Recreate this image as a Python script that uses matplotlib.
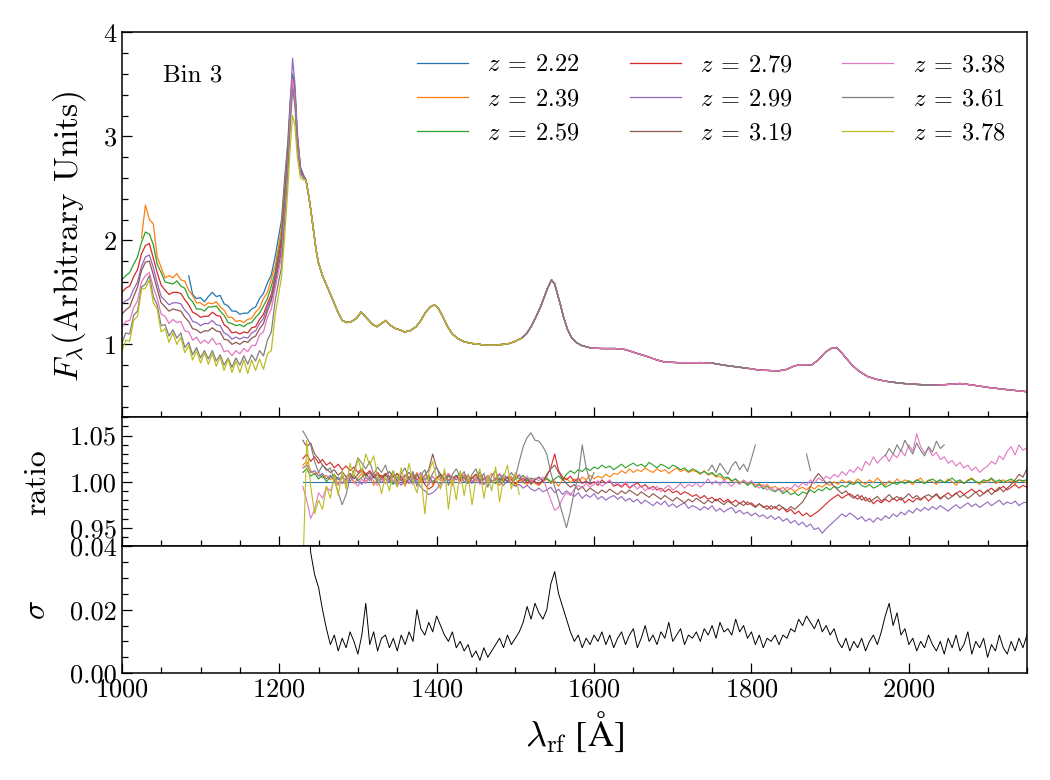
import numpy as np
import matplotlib
matplotlib.use('Agg')
import matplotlib.pyplot as plt
from matplotlib.ticker import MultipleLocator, FormatStrFormatter

plt.rcParams['font.family'] = ['cmr10', 'DejaVu Serif']
plt.rcParams['mathtext.fontset'] = 'cm'
plt.rcParams['axes.formatter.use_mathtext'] = True
plt.rcParams['axes.unicode_minus'] = False

nan = float('nan')

labels = ['2.22', '2.39', '2.59', '2.79', '2.99', '3.19', '3.38', '3.61', '3.78']
colors = ['C0', 'C1', 'C2', 'C3', 'C4', 'C5', 'C6', 'C7', 'C8']

# ---- top panel: Lya forest side (one list per redshift), 5 A steps + Lya peak
lam_forest = list(range(1000, 1200, 5)) + [1203, 1207, 1211, 1214, 1217, 1220, 1223, 1227, 1231]

forest_222 = [nan] * 17 + [1.66, 1.48, 1.44, 1.45, 1.41, 1.46, 1.50, 1.46, 1.47, 1.39,
                           1.37, 1.32, 1.32, 1.29, 1.30, 1.30, 1.34, 1.36, 1.44, 1.49,
                           1.59, 1.67, 1.85] + [2.20, 2.60, 2.95, 3.35, 3.60, 3.45, 3.00, 2.70, 2.62]
forest_239 = [nan] * 5 + [2.02, 2.34, 2.20, 2.16, 1.84, 1.74, 1.64, 1.66, 1.64, 1.68,
                          1.62, 1.61, 1.52, 1.47, 1.40, 1.40, 1.37, 1.40, 1.39, 1.41,
                          1.36, 1.33, 1.26, 1.26, 1.22, 1.23, 1.21, 1.24, 1.25, 1.31,
                          1.35, 1.44, 1.50, 1.63, 1.76] + [2.12, 2.52, 2.90, 3.30, 3.55, 3.40, 2.95, 2.68, 2.62]
forest_259 = [1.62, 1.66, 1.69, 1.77, 1.84, 1.98, 2.08, 2.06, 1.96, 1.77,
              1.69, 1.60, 1.59, 1.58, 1.61, 1.56, 1.54, 1.45, 1.41, 1.34,
              1.34, 1.32, 1.36, 1.36, 1.37, 1.32, 1.28, 1.21, 1.20, 1.18,
              1.19, 1.17, 1.20, 1.21, 1.26, 1.30, 1.37, 1.44, 1.56, 1.70,
              2.05, 2.45, 2.85, 3.28, 3.58, 3.42, 3.00, 2.70, 2.62]
forest_279 = [1.50, 1.54, 1.56, 1.65, 1.72, 1.87, 1.95, 1.97, 1.83, 1.69,
              1.57, 1.52, 1.48, 1.50, 1.50, 1.49, 1.43, 1.38, 1.31, 1.29,
              1.26, 1.27, 1.27, 1.31, 1.28, 1.27, 1.19, 1.16, 1.11, 1.12,
              1.10, 1.12, 1.11, 1.16, 1.17, 1.24, 1.29, 1.39, 1.48, 1.66,
              2.00, 2.40, 2.80, 3.25, 3.55, 3.40, 2.98, 2.68, 2.62]
forest_299 = [1.39, 1.42, 1.44, 1.53, 1.60, 1.75, 1.84, 1.86, 1.74, 1.59,
              1.46, 1.42, 1.38, 1.40, 1.40, 1.39, 1.33, 1.29, 1.22, 1.21,
              1.18, 1.20, 1.20, 1.23, 1.19, 1.18, 1.11, 1.09, 1.05, 1.07,
              1.05, 1.07, 1.06, 1.11, 1.13, 1.20, 1.25, 1.36, 1.45, 1.63,
              1.95, 2.38, 2.80, 3.30, 3.75, 3.50, 3.05, 2.70, 2.62]
forest_319 = [1.29, 1.33, 1.36, 1.46, 1.55, 1.71, 1.79, 1.80, 1.67, 1.53,
              1.40, 1.36, 1.32, 1.34, 1.33, 1.32, 1.26, 1.22, 1.15, 1.14,
              1.11, 1.13, 1.13, 1.16, 1.13, 1.12, 1.05, 1.04, 1.00, 1.02,
              1.00, 1.03, 1.02, 1.06, 1.08, 1.15, 1.20, 1.32, 1.42, 1.59,
              1.90, 2.33, 2.75, 3.20, 3.50, 3.35, 2.95, 2.66, 2.60]
forest_338 = [1.16, 1.22, 1.23, 1.35, 1.42, 1.60, 1.66, 1.69, 1.55, 1.44,
              1.29, 1.27, 1.20, 1.24, 1.21, 1.22, 1.13, 1.12, 1.04, 1.07,
              1.01, 1.04, 1.01, 1.06, 1.00, 1.01, 0.93, 0.94, 0.89, 0.94,
              0.91, 0.96, 0.93, 0.99, 0.99, 1.09, 1.12, 1.26, 1.34, 1.54,
              1.85, 2.28, 2.72, 3.20, 3.55, 3.35, 2.95, 2.65, 2.60]
forest_361 = [1.01, 1.11, 1.10, 1.28, 1.32, 1.55, 1.58, 1.66, 1.46, 1.38,
              1.18, 1.19, 1.08, 1.14, 1.06, 1.11, 0.97, 1.02, 0.90, 0.97,
              0.87, 0.94, 0.86, 0.94, 0.84, 0.90, 0.80, 0.87, 0.78, 0.87,
              0.80, 0.89, 0.81, 0.90, 0.84, 0.94, 0.89, 1.04, 1.12, 1.43,
              1.75, 2.20, 2.65, 3.10, 3.45, 3.30, 2.90, 2.64, 2.60]
forest_378 = [0.93, 1.04, 1.03, 1.23, 1.27, 1.53, 1.54, 1.62, 1.40, 1.34,
              1.12, 1.15, 1.02, 1.11, 1.00, 1.07, 0.92, 0.99, 0.85, 0.94,
              0.82, 0.92, 0.81, 0.91, 0.79, 0.88, 0.75, 0.86, 0.73, 0.84,
              0.73, 0.85, 0.72, 0.85, 0.75, 0.86, 0.76, 0.91, 0.94, 1.29,
              1.65, 2.05, 2.50, 2.90, 3.20, 3.10, 2.80, 2.60, 2.58]

# ---- top panel: red side, common to all redshifts
lam_red = [1234, 1237, 1240, 1244, 1247, 1250, 1255, 1259, 1264, 1268,
           1274, 1280, 1286, 1292, 1298, 1304, 1309, 1314, 1319, 1324,
           1330, 1335, 1340, 1347, 1353, 1359, 1366, 1374, 1380, 1386,
           1392, 1397, 1402, 1407, 1414, 1420, 1426, 1435, 1444, 1455,
           1465, 1475, 1485, 1493, 1500, 1508, 1514, 1520, 1526, 1532,
           1537, 1541, 1546, 1550, 1553, 1557, 1561, 1566, 1571, 1577,
           1584, 1596, 1610, 1627, 1640, 1654, 1669, 1680, 1690, 1705,
           1720, 1735, 1750, 1765, 1780, 1795, 1810, 1825, 1835, 1845,
           1855, 1865, 1876, 1885, 1894, 1901, 1908, 1914, 1920, 1928,
           1937, 1948, 1961, 1975, 1992, 2010, 2034, 2050, 2065, 2080,
           2101, 2125, 2150]
flux_red = [2.58, 2.45, 2.30, 2.07, 1.90, 1.78, 1.66, 1.59, 1.50, 1.43,
            1.32, 1.23, 1.21, 1.22, 1.25, 1.31, 1.27, 1.23, 1.19, 1.17,
            1.20, 1.23, 1.19, 1.155, 1.14, 1.12, 1.13, 1.17, 1.23, 1.31,
            1.36, 1.38, 1.35, 1.28, 1.17, 1.10, 1.06, 1.025, 1.01, 1.00,
            0.99, 0.995, 1.00, 1.01, 1.03, 1.06, 1.10, 1.17, 1.26, 1.36,
            1.46, 1.54, 1.62, 1.58, 1.50, 1.39, 1.27, 1.15, 1.07, 1.02,
            0.99, 0.965, 0.96, 0.96, 0.95, 0.915, 0.88, 0.85, 0.83, 0.825,
            0.823, 0.825, 0.82, 0.80, 0.785, 0.77, 0.753, 0.748, 0.746, 0.76,
            0.795, 0.805, 0.80, 0.85, 0.925, 0.96, 0.97, 0.925, 0.87, 0.80,
            0.74, 0.69, 0.66, 0.64, 0.625, 0.615, 0.608, 0.615, 0.624, 0.61,
            0.586, 0.565, 0.545]

olive_end = 1510
gray_gaps = [(1603, 1742), (1808, 1867), (1878, 1967), (2048, 2155)]

# ---- ratio panel, per mille deviation from 1, 5 A steps from 1230
lam_ratio = np.arange(1230, 2151, 5)
ratio_222 = [0] * len(lam_ratio)
ratio_239 = [18, 22, 12, 8, 10, 4, 7, 2, 6, -3, 5, 1, 8, -2, 4, 9, 0, 6, -4, 3,
             7, -2, 5, 0, 9, 3, -5, 6, 2, 10, -1, 4, 8, -3, 5, 1, 9, 2, -4, 6,
             3, 8, -2, 5, 0, 7, -3, 4, 9, 1, -4, 3, 0, 6, -5, 2, -1, -3, 1, -2,
             -4, 0, 3, -2, 1, -5, 2, 4, -1, 3, 0, 5, 2, 7, 3, 6, 4, 8, 5, 9,
             8, 12, 9, 14, 10, 13, 11, 15, 12, 10, 14, 11, 13, 9, 12, 15, 11, 13, 10, 12,
             11, 8, 12, 7, 9, 5, 6, 2, 4, 0, 3, -1, 1, -3, 0, -4, -2, -6, -3, -7,
             -5, -9, -6, -10, -7, -11, -8, -6, -9, -5, -8, -4, -6, -2, -4, 0, -3, 2, -1, 1,
             -2, 3, 0, -3, 2, -1, 4, 0, -4, 1, -2, 3, -1, 2, 0, -3, 1, 4, -2, 2,
             0, -3, 2, -1, 3, 0, -4, 1, -2, 2, 4, 0, -3, 1, -1, 3, -2, 0, 2, -1,
             1, -2, 2, 0, -1]
ratio_259 = [10, 14, 6, 9, 3, 7, 0, 5, 8, 2, 6, -2, 4, 7, 1, 5, 9, 3, 6, 0,
             4, 8, 2, -3, 5, 1, 7, 3, -1, 6, 9, 2, 5, 0, 4, 8, 1, 6, 3, 7,
             2, 5, -1, 4, 8, 0, 3, 6, 1, -2, 4, 0, 5, 2, 6, 3, 7, 1, 4, 2,
             5, 1, 4, 0, 3, 6, 2, 8, 12, 9, 13, 11, 15, 12, 16, 14, 18, 15, 17, 13,
             16, 19, 15, 18, 20, 17, 19, 16, 21, 18, 15, 19, 17, 14, 18, 16, 13, 15, 11, 14,
             12, 9, 11, 8, 10, 6, 9, 4, 5, 1, 3, -2, 0, -4, -1, -6, -3, -8, -5, -9,
             -11, -8, -13, -10, -14, -12, -15, -11, -13, -9, -12, -8, -10, -6, -9, -5, -7, -4, -6, -2,
             -3, 0, -4, -6, -3, -7, -5, -2, -6, -4, -1, -3, 0, -2, 1, -1, 2, 0, -2, 1,
             3, 0, 2, -1, 1, 4, 0, 2, -2, 1, 3, 0, -1, 2, 1, 4, 0, 2, -1, 1,
             3, 0, 2, 1, 2]
ratio_279 = [25, 30, 22, 27, 20, 24, 18, 21, 15, 19, 13, 17, 12, 16, 10, 14, 8, 12, 6, 10,
             5, 9, 3, 7, 1, 6, -2, 4, 8, 2, 6, -3, -8, -5, 4, 7, 2, 9, 3, 6,
             1, 5, -2, 4, 8, 0, 3, 6, -1, 4, 2, 5, 0, 3, -2, 1, 4, -1, 2, 0,
             -3, 2, 6, 15, 30, 12, 5, 2, 6, 0, 4, -2, 1, -3, 0, -4, 2, -2, 1, -5,
             -3, -6, -2, -7, -4, -1, -6, -3, -8, -5, -9, -7, -11, -8, -12, -10, -14, -11, -13, -16,
             -14, -18, -15, -19, -17, -21, -18, -22, -19, -23, -20, -24, -21, -25, -23, -27, -24, -28, -26, -30,
             -27, -31, -28, -33, -30, -35, -32, -37, -34, -38, -35, -32, -28, -24, -20, -17, -14, -18, -15, -13,
             -16, -19, -15, -21, -18, -24, -20, -23, -19, -22, -18, -21, -17, -23, -19, -22, -18, -20, -16, -21,
             -17, -14, -19, -15, -12, -16, -13, -10, -14, -11, -8, -12, -9, -13, -10, -7, -11, -8, -5, -9,
             -6, -3, -7, -4, -6]
ratio_299 = [15, 18, 10, 12, 6, 9, 3, 7, 1, 5, -2, 4, 0, 6, 2, -3, 5, 1, 7, 3,
             -1, 4, 0, 6, 2, -4, 3, -2, 5, 1, -6, -10, -14, -12, -8, -2, 4, 1, 6, 2,
             5, 0, 3, -2, 4, 1, -3, 2, -1, 3, 0, -4, 1, -2, -5, -3, -7, -4, -8, -10,
             -7, -11, -9, -6, -12, -8, -14, -10, -13, -16, -12, -18, -14, -17, -13, -19, -16, -20, -17, -15,
             -19, -16, -21, -18, -22, -19, -24, -20, -23, -26, -22, -25, -21, -27, -24, -28, -25, -23, -29, -26,
             -28, -31, -27, -30, -26, -32, -29, -33, -30, -28, -34, -31, -35, -33, -37, -34, -38, -36, -40, -37,
             -41, -38, -43, -40, -45, -42, -47, -44, -49, -46, -52, -50, -56, -51, -47, -43, -39, -35, -38, -34,
             -37, -41, -38, -43, -40, -44, -39, -42, -37, -40, -35, -38, -33, -36, -31, -34, -29, -32, -28, -31,
             -27, -30, -26, -29, -32, -28, -25, -29, -26, -23, -27, -24, -28, -25, -22, -26, -23, -20, -25, -22,
             -24, -21, -26, -23, -22]
ratio_319 = [45, 38, 42, 30, 25, 18, 14, 10, 13, 7, 11, 5, 9, 3, 8, 12, 6, 10, 4, 8,
             2, 7, 11, 5, 9, 1, 6, 10, 4, 8, 2, 7, 13, 30, 15, 8, 3, 7, 1, 5,
             9, 3, 7, 0, 5, 10, 2, 6, -1, 4, 8, 1, 5, -2, 3, 7, 0, 4, -3, 2,
             5, 0, 8, 14, 18, 10, 3, -2, -6, -3, -9, -5, -11, -7, -10, -13, -9, -12, -8, -11,
             -14, -10, -13, -9, -12, -15, -11, -14, -17, -13, -16, -19, -15, -18, -21, -17, -20, -23, -19, -22,
             -18, -21, -24, -20, -23, -19, -22, -25, -21, -24, -27, -23, -26, -22, -25, -28, -24, -27, -30, -26,
             -29, -25, -28, -31, -27, -30, -26, -22, -15, -5, 3, 9, 4, -2, 0, -5, -9, -13, -10, -15,
             -18, -14, -20, -17, -22, -19, -16, -21, -18, -14, -19, -16, -20, -17, -13, -18, -15, -19, -16, -14,
             -17, -13, -18, -15, -19, -16, -12, -17, -14, -18, -15, -11, -16, -13, -9, -14, -10, -6, -11, -7,
             -3, 2, 8, 5, 14]
ratio_338 = [-5, -20, -40, -30, -12, -18, -6, -10, 2, -4, 5, -3, 6, 0, -5, 3, -2, 7, 1, -4,
             4, -2, 6, 1, -5, 3, 8, 0, -3, 5, 10, 2, -4, 6, 0, -6, 3, 9, 1, 5,
             -2, 4, 8, 0, 5, -3, 2, 7, -1, 4, 9, 3, 6, 1, 5, 8, 2, 6, 0, 4,
             1, 5, -8, -20, -31, -28, -18, -12, -15, -8, -4, -7, -2, -6, -3, 1, -5, -2, 2, -4,
             -1, -5, 0, -6, -3, -8, -4, -10, -6, -9, -5, -11, -7, -4, -9, -6, -2, -7, -3, -5,
             -1, -6, -2, 3, -3, 1, -4, 2, -2, -5, 0, -3, 2, -2, 1, -4, -7, -3, -9, -6,
             -10, -7, -11, -6, -8, -3, -6, -1, -4, 2, -2, 4, 1, 6, 3, 8, 5, 11, 7, 13,
             10, 16, 12, 22, 18, 27, 20, 25, 29, 22, 30, 26, 34, 28, 40, 33, 52, 38, 31, 36,
             28, 32, 24, 27, 20, 23, 17, 21, 15, 18, 12, 16, 10, 14, 17, 22, 19, 28, 24, 33,
             38, 29, 40, 34, 37]
ratio_361 = [55, 48, 40, 22, 10, 18, 12, 15, 2, -12, -25, -14, 4, 12, 26, 20, 14, 22, 8, 16,
             10, 18, 4, 12, -3, 9, 15, 2, 11, -5, 7, 13, 0, 9, 16, 3, 10, -4, 8, 14,
             5, 11, -2, 8, 14, 1, 9, -6, 6, 12, 0, 8, 3, 10, 4, 22, 38, 48, 53, 45,
             44, 38, 30, 10, -5, -20, -35, -50, -32, -10, 5, 40, 15, 0, 10, nan, nan, nan, nan, nan,
             nan, nan, nan, nan, nan, nan, nan, nan, nan, nan, nan, nan, nan, nan, nan, nan, nan, nan, nan, nan,
             nan, nan, nan, 12, 18, 10, 20, 14, 8, 17, 22, 13, 19, 11, 25, 40, nan, nan, nan, nan,
             nan, nan, nan, nan, nan, nan, nan, nan, 30, 12, nan, nan, nan, nan, nan, nan, nan, nan, nan, nan,
             nan, nan, nan, nan, nan, nan, nan, nan, 28, 36, 30, 40, 33, 45, 37, 30, 42, 34, 28, 38,
             32, 44, 36, 40]
ratio_378 = [-100, 45, -5, -35, -20, -30, -5, -18, 8, -15, 12, -8, 20, 5, 25, 10, 30, 18, 28, 6,
             -13, 5, -10, 12, -6, 15, -2, 20, 0, -12, 8, -35, 10, 22, 3, -8, 14, -30, 5, -20,
             12, -15, 8, -25, 3, 14, -18, 6, -10, 16, -22, 4, 18, -8, 10, -14]

# ---- sigma panel, units of 1e-3, 5 A steps from 1235
lam_sigma = np.arange(1235, 2151, 5)
sigma = [60, 38, 31, 27, 20, 14, 9, 12, 7, 11, 8, 13, 10, 6, 12, 22, 9, 13, 7, 11,
         12, 8, 11, 7, 12, 9, 13, 10, 20, 14, 12, 16, 13, 18, 15, 12, 10, 13, 8, 10,
         7, 9, 5, 7, 4, 8, 5, 7, 9, 11, 8, 12, 9, 11, 13, 16, 21, 17, 22, 19,
         17, 20, 28, 32, 25, 21, 17, 13, 10, 12, 8, 11, 9, 12, 10, 13, 9, 12, 8, 11,
         13, 9, 12, 14, 8, 11, 15, 10, 12, 9, 13, 11, 16, 10, 12, 14, 9, 12, 11, 13,
         10, 14, 12, 15, 11, 16, 13, 14, 12, 17, 13, 15, 11, 13, 9, 12, 8, 11, 10, 12,
         9, 12, 11, 14, 13, 17, 15, 18, 16, 14, 17, 13, 15, 12, 14, 10, 8, 11, 7, 10,
         8, 11, 7, 10, 12, 9, 13, 18, 22, 15, 19, 12, 14, 9, 11, 7, 10, 8, 12, 9,
         7, 10, 6, 11, 8, 12, 7, 9, 13, 6, 10, 8, 11, 5, 9, 7, 12, 8, 6, 10,
         7, 11, 8, 12]

forest = [forest_222, forest_239, forest_259, forest_279, forest_299,
          forest_319, forest_338, forest_361, forest_378]
ratios = [ratio_222, ratio_239, ratio_259, ratio_279, ratio_299,
          ratio_319, ratio_338, ratio_361, ratio_378]

fig = plt.figure(figsize=(10.5, 7.8), dpi=100)
gs = fig.add_gridspec(3, 1, height_ratios=[385, 129, 127], hspace=0,
                      left=0.116, right=0.978, top=0.9586, bottom=0.137)
ax1 = fig.add_subplot(gs[0])
ax2 = fig.add_subplot(gs[1], sharex=ax1)
ax3 = fig.add_subplot(gs[2], sharex=ax1)

lam_top = np.array(lam_forest + lam_red, dtype=float)
for z, f, c in zip(labels, forest, colors):
    flux = np.array(f + flux_red, dtype=float)
    if z == '3.78':
        flux[lam_top > olive_end] = nan
    if z == '3.61':
        for lo, hi in gray_gaps:
            flux[(lam_top > lo) & (lam_top < hi)] = nan
    ax1.plot(lam_top, flux, color=c, lw=0.9, label=r'$z\:=\:%s$' % z)

for r, c in zip(ratios, colors):
    vals = 1 + np.array(r, dtype=float) / 1000
    ax2.plot(lam_ratio[:len(vals)], vals, color=c, lw=0.8)

sig = np.array(sigma, dtype=float) / 1000
ax3.plot(lam_sigma[:len(sig)], sig, color='k', lw=0.7)

ax1.set_xlim(1000, 2150)
ax1.set_ylim(0.3, 4)
ax2.set_ylim(0.93, 1.07)
ax3.set_ylim(0, 0.04)

for ax in (ax1, ax2, ax3):
    ax.tick_params(which='both', direction='in', top=False, right=False,
                   labelsize=19, width=0.9)
    ax.tick_params(which='major', length=7.5)
    ax.tick_params(which='minor', length=4.5)
    for s in ax.spines.values():
        s.set_linewidth(1.1)
ax1.tick_params(labelbottom=False)
ax2.tick_params(labelbottom=False)

ax3.xaxis.set_major_locator(MultipleLocator(200))
ax3.xaxis.set_minor_locator(MultipleLocator(50))
ax1.yaxis.set_major_locator(MultipleLocator(1))
ax1.yaxis.set_minor_locator(MultipleLocator(0.2))
ax1.yaxis.set_major_formatter(FormatStrFormatter('%d'))
ax2.yaxis.set_major_locator(MultipleLocator(0.05))
ax2.yaxis.set_minor_locator(MultipleLocator(0.01))
ax2.yaxis.set_major_formatter(FormatStrFormatter('%.2f'))
ax3.yaxis.set_major_locator(MultipleLocator(0.02))
ax3.yaxis.set_minor_locator(MultipleLocator(0.005))
ax3.yaxis.set_major_formatter(FormatStrFormatter('%.2f'))

ax1.set_ylabel(r'$F_\lambda$(Arbitrary Units)', fontsize=24)
ax2.set_ylabel('ratio', fontsize=23)
ax3.set_ylabel(r'$\sigma$', fontsize=23)
ax1.yaxis.set_label_coords(-0.037, 0.47)
ax2.yaxis.set_label_coords(-0.078, 0.5)
ax3.yaxis.set_label_coords(-0.078, 0.5)
ax3.set_xlabel(r'$\lambda_{\rm rf}$ [Å]', fontsize=26, family='STIXGeneral',
               labelpad=6)

ax1.text(0.046, 0.889, 'Bin 3', transform=ax1.transAxes, fontsize=18,
         ha='left', va='center')
ax1.legend(ncol=3, loc='upper right', bbox_to_anchor=(1.0, 1.0), frameon=False,
           fontsize=17.5, handlelength=2.1, handletextpad=0.8, columnspacing=2.05,
           labelspacing=0.5)

fig.savefig('out.png', dpi=100)
